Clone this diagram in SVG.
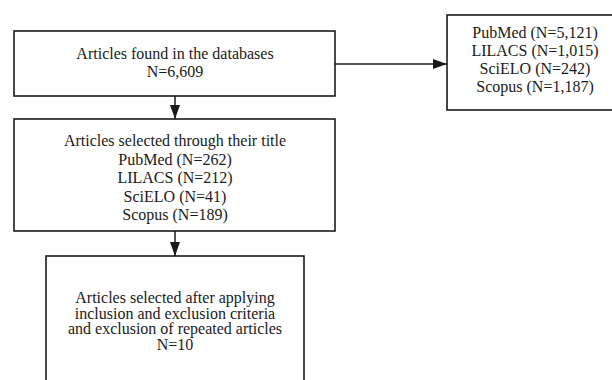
<svg xmlns="http://www.w3.org/2000/svg" width="612" height="380" viewBox="0 0 612 380">
<defs>
<style>
.box{fill:#fff;stroke:#1a1a1a;stroke-width:1.6}
.t{font-family:"Liberation Serif","Times New Roman",serif;font-size:16px;fill:#1a1a1a;text-anchor:middle}
.c{stroke:#1a1a1a;stroke-width:1.5;fill:none}
</style>
<marker id="ah" markerWidth="14" markerHeight="10" refX="14" refY="5" orient="auto" markerUnits="userSpaceOnUse">
<path d="M0,0 L14,5 L0,10 Z" fill="#1a1a1a"/>
</marker>
</defs>
<rect width="612" height="380" fill="#fff"/>
<g id="connectors">
<line class="c" x1="175" y1="96" x2="175" y2="119" marker-end="url(#ah)"/>
<line class="c" x1="175" y1="231" x2="175" y2="256" marker-end="url(#ah)"/>
<line class="c" x1="335" y1="64" x2="447" y2="64" marker-end="url(#ah)"/>
</g>
<g id="found">
<rect class="box" x="14" y="31" width="321" height="65"/>
<text class="t" x="175" y="59">Articles found in the databases</text>
<text class="t" x="175" y="77">N=6,609</text>
</g>
<g id="sources">
<rect class="box" x="447" y="15" width="178" height="95"/>
<text class="t" x="535" y="38">PubMed (N=5,121)</text>
<text class="t" x="535" y="56">LILACS (N=1,015)</text>
<text class="t" x="535" y="74">SciELO (N=242)</text>
<text class="t" x="535" y="92">Scopus (N=1,187)</text>
</g>
<g id="title">
<rect class="box" x="14" y="119" width="321" height="112"/>
<text class="t" x="175" y="146">Articles selected through their title</text>
<text class="t" x="175" y="165">PubMed (N=262)</text>
<text class="t" x="175" y="183">LILACS (N=212)</text>
<text class="t" x="175" y="202">SciELO (N=41)</text>
<text class="t" x="175" y="220">Scopus (N=189)</text>
</g>
<g id="final">
<rect class="box" x="46" y="256" width="258" height="140"/>
<text class="t" x="175" y="303">Articles selected after applying</text>
<text class="t" x="175" y="318.5">inclusion and exclusion criteria</text>
<text class="t" x="175" y="334">and exclusion of repeated articles</text>
<text class="t" x="175" y="350">N=10</text>
</g>
</svg>
